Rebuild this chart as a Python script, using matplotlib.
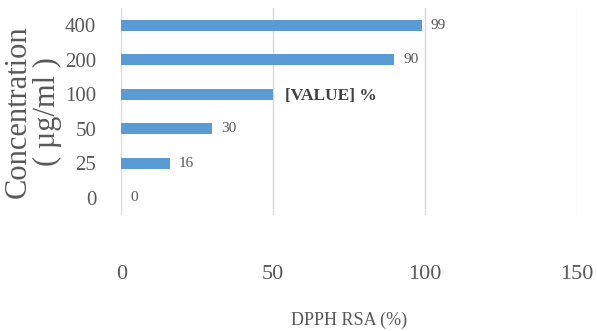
import matplotlib.pyplot as plt
import numpy as np

# DPPH radical scavenging by concentration
conc = ["0", "25", "50", "100", "200", "400"]
rsa = [0, 16, 30, 50, 90, 99]
bar_labels = ["0", "16", "30", "[VALUE] %", "90", "99"]

plt.rcParams['font.family'] = ['Liberation Serif', 'DejaVu Serif']

fig = plt.figure(figsize=(5.97, 3.31), dpi=100)
ax = fig.add_axes([0.203, 0.35, 0.763, 0.626])

y = np.arange(len(conc))
ax.barh(y, rsa, height=0.32, color='#5B9BD5', zorder=3)

for yi, v, lab in zip(y, rsa, bar_labels):
    if lab.startswith("["):
        ax.text(v + 4, yi - 0.05, lab, va='center', ha='left', fontsize=12.5,
                fontweight='bold', color='#404040')
    else:
        ax.text(v + 3, yi, lab, va='center', ha='left', fontsize=11,
                color='#595959')

ax.set_xlim(0, 150)
ax.set_ylim(-0.5, 5.5)
ax.set_xticks([0, 50, 100, 150])
ax.set_yticks(y)
ax.set_yticklabels(conc)
ax.tick_params(axis='x', labelsize=16, length=0, pad=36, colors='#595959')
ax.tick_params(axis='y', labelsize=15, length=0, pad=18, colors='#595959')
ax.grid(axis='x', color='#D9D9D9', linewidth=1, zorder=0)
for s in ax.spines.values():
    s.set_visible(False)

ax.set_xlabel("DPPH RSA (%)", fontsize=13, color='#595959', labelpad=20)
ax.set_ylabel("Concentration\n( µg/ml )", fontsize=22, color='#595959',
              linespacing=1.0, labelpad=2)

fig.savefig("out.png", dpi=100)
